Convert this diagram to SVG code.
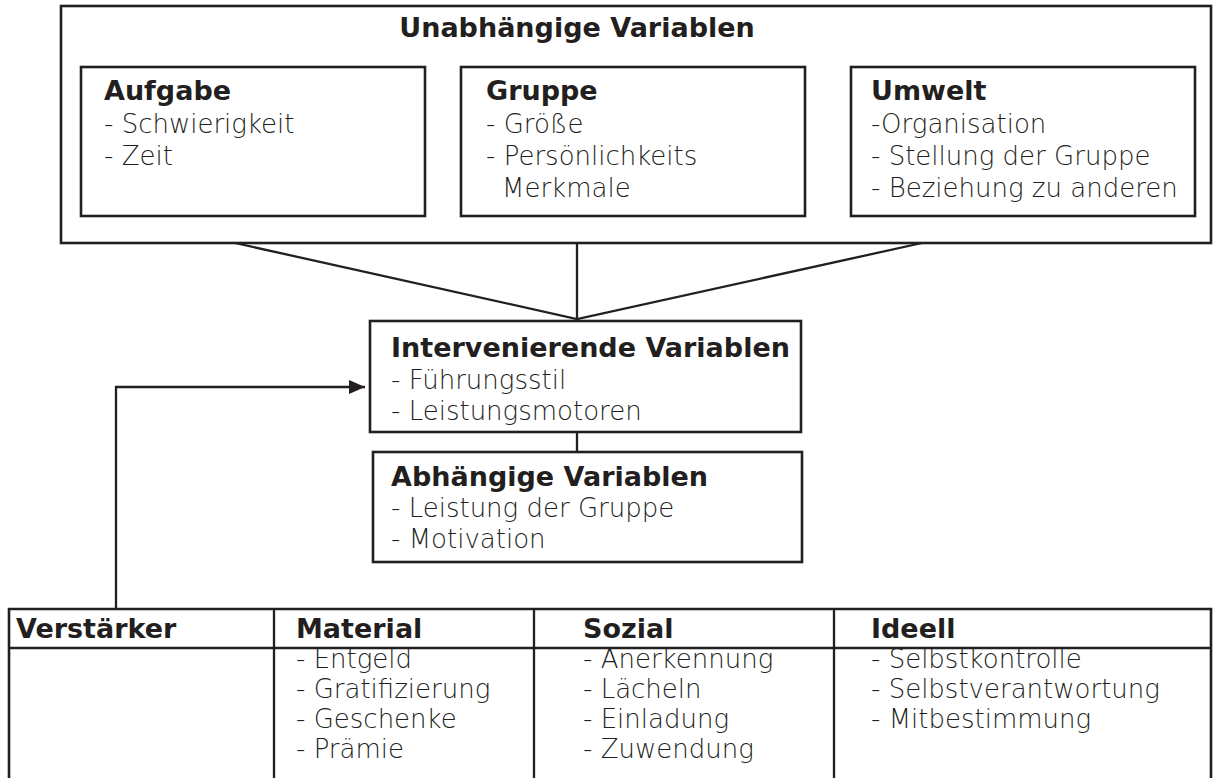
<svg xmlns="http://www.w3.org/2000/svg" width="1215" height="778" viewBox="0 0 1215 778">
<style>
.box{fill:none;stroke:#231f20;stroke-width:2.6}
.ln{fill:none;stroke:#231f20;stroke-width:2.3}
.h{font-family:"DejaVu Sans",sans-serif;font-weight:bold;font-size:27px;fill:#231f20}
.t{font-family:"DejaVu Sans",sans-serif;font-weight:200;font-size:26px;fill:#231f20}
</style>
<defs>
<marker id="arr" markerWidth="16" markerHeight="14" refX="16" refY="7" orient="auto" markerUnits="userSpaceOnUse">
<path d="M0,0 L16,7 L0,14 z" fill="#231f20"/>
</marker>
</defs>
<rect width="1215" height="778" fill="#fff"/>
<g id="connectors">
<path class="ln" d="M235,243 L577,319 L922,243"/>
<path class="ln" d="M577,243 L577,320"/>
<path class="ln" d="M577,432 L577,452"/>
<path class="ln" d="M116,609 L116,387 L365,387" marker-end="url(#arr)"/>
</g>
<g id="unabhaengige">
<rect class="box" x="61" y="6" width="1150" height="237"/>
<text class="h" x="577" y="37" text-anchor="middle">Unabhängige Variablen</text>
</g>
<g id="aufgabe">
<rect class="box" x="81" y="67" width="344" height="149"/>
<text class="h" x="104" y="100">Aufgabe</text>
<text class="t" x="104" y="133">- Schwierigkeit</text>
<text class="t" x="104" y="165">- Zeit</text>
</g>
<g id="gruppe">
<rect class="box" x="461" y="67" width="344" height="149"/>
<text class="h" x="486" y="100">Gruppe</text>
<text class="t" x="486" y="133">- Größe</text>
<text class="t" x="486" y="165">- Persönlichkeits</text>
<text class="t" x="502" y="197">Merkmale</text>
</g>
<g id="umwelt">
<rect class="box" x="851" y="67" width="344" height="149"/>
<text class="h" x="871" y="100">Umwelt</text>
<text class="t" x="871" y="133">-Organisation</text>
<text class="t" x="871" y="165">- Stellung der Gruppe</text>
<text class="t" x="871" y="197">- Beziehung zu anderen</text>
</g>
<g id="intervenierende">
<rect class="box" x="370" y="321" width="431" height="111"/>
<text class="h" x="391" y="357">Intervenierende Variablen</text>
<text class="t" x="391" y="389">- Führungsstil</text>
<text class="t" x="391" y="420">- Leistungsmotoren</text>
</g>
<g id="abhaengige">
<rect class="box" x="373" y="452" width="429" height="110"/>
<text class="h" x="391" y="486">Abhängige Variablen</text>
<text class="t" x="391" y="517">- Leistung der Gruppe</text>
<text class="t" x="391" y="548">- Motivation</text>
</g>
<g id="verstaerker">
<path class="box" d="M9,790 L9,609 L1211,609 L1211,790"/>
<path class="ln" d="M9,648 L1211,648"/>
<path class="ln" d="M274,609 L274,790 M534,609 L534,790 M834,609 L834,790"/>
<text class="h" x="16" y="638">Verstärker</text>
<text class="h" x="296" y="638">Material</text>
<text class="h" x="583" y="638">Sozial</text>
<text class="h" x="871" y="638">Ideell</text>
<text class="t" x="296" y="668">- Entgeld</text>
<text class="t" x="296" y="698">- Gratifizierung</text>
<text class="t" x="296" y="728">- Geschenke</text>
<text class="t" x="296" y="758">- Prämie</text>
<text class="t" x="583" y="668">- Anerkennung</text>
<text class="t" x="583" y="698">- Lächeln</text>
<text class="t" x="583" y="728">- Einladung</text>
<text class="t" x="583" y="758">- Zuwendung</text>
<text class="t" x="871" y="668">- Selbstkontrolle</text>
<text class="t" x="871" y="698">- Selbstverantwortung</text>
<text class="t" x="871" y="728">- Mitbestimmung</text>
</g>
</svg>
